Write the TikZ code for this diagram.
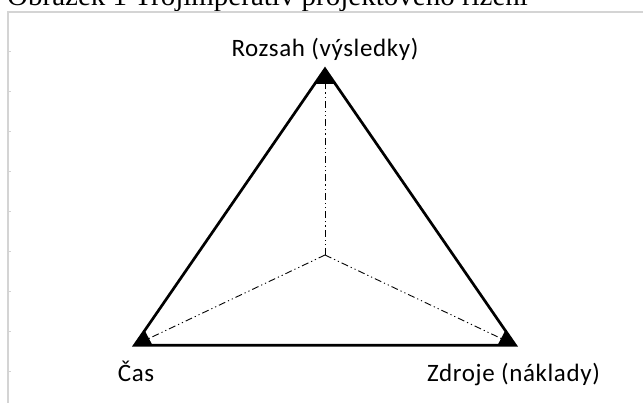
\documentclass[tikz,border=0pt]{standalone}
\usepackage{fontspec}
\setmainfont{Carlito}
\newfontfamily\titlefont{Liberation Serif}
\newfontfamily\labelfont[LetterSpace=2.5]{Carlito}
\usetikzlibrary{calc}
\definecolor{framegray}{RGB}{212,212,212}
\tikzset{
  frameline/.style={draw=framegray, line width=1.6pt},
  tickline/.style={draw=framegray, line width=1pt},
  triline/.style={draw=black, line width=2.7pt, line join=miter},
  axisline/.style={draw=black, line width=0.9pt, dash pattern=on 7pt off 3pt on 1.2pt off 3pt on 1.2pt off 3pt},
  cornermark/.style={fill=black},
  lbl/.style={font=\labelfont\fontsize{25}{30}\selectfont, inner sep=0pt},
  ttl/.style={font=\titlefont\fontsize{29}{34}\selectfont, inner sep=0pt}
}
\begin{document}
\begin{tikzpicture}[x=1pt, y=-1pt]
\clip (0,0) rectangle (643,403);
\fill[white] (0,0) rectangle (643,403);
% title (cut at top)
\node[ttl, anchor=base west] (title) at (7,6) {Obrázek 1 Trojimperativ projektového řízení};
% frame
\coordinate (fb) at (8,404);
\coordinate (ftl) at (8,12);
\coordinate (ftr) at (644,12);
\draw[frameline] (fb) -- (ftl) -- (ftr);
\foreach \yy in {51.7,91.7,131.7,171.7,211.7,251.7,291.7,331.7,371.7}{
  \draw[tickline] (8,\yy) -- (10.5,\yy);
}
% triangle corners
\coordinate (A) at (325,69);
\coordinate (L) at (134.5,345.3);
\coordinate (R) at (515.5,345.3);
\coordinate (C) at (325,255);
% dash-dot axes
\draw[axisline] (C) -- (A);
\draw[axisline] (C) -- (L);
\draw[axisline] (C) -- (R);
% triangle
\draw[triline] (A) -- (L) -- (R) -- cycle;
% corner markers
\fill[cornermark] (A) -- ($(A)!18pt!(L)$) -- ($(A)!18pt!(R)$) -- cycle;
\fill[cornermark] (L) -- ($(L)!18pt!(A)$) -- ($(L)!18pt!(R)$) -- cycle;
\fill[cornermark] (R) -- ($(R)!18pt!(A)$) -- ($(R)!18pt!(L)$) -- cycle;
% labels
\node[lbl, anchor=base] (rozsah) at (325,56.7) {Rozsah (výsledky)};
\node[lbl, anchor=base] (cas) at (136,381.7) {Čas};
\node[lbl, anchor=base] (zdroje) at (513.5,381.7) {Zdroje (náklady)};
\end{tikzpicture}
\end{document}
